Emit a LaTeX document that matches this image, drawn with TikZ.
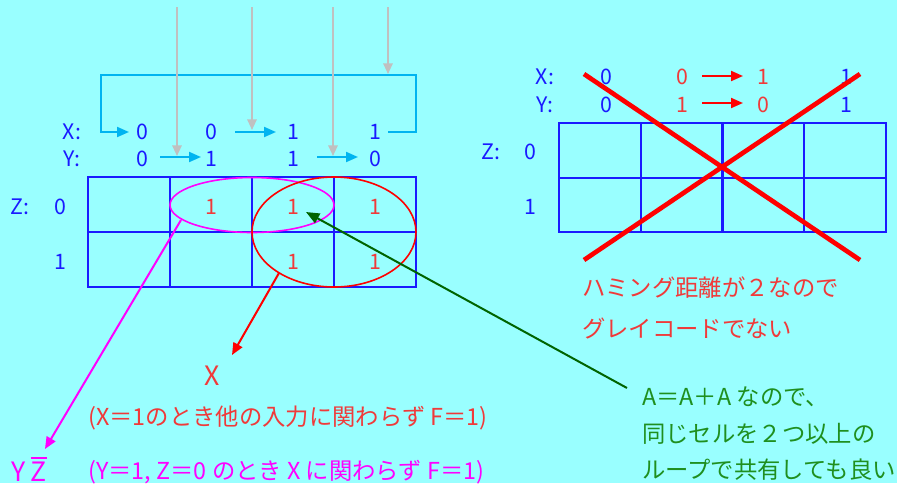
\documentclass[tikz,border=0pt]{standalone}
\usepackage{fontspec}
\setmainfont{Noto Sans CJK JP}
\usetikzlibrary{arrows.meta,calc}
\definecolor{bg}{HTML}{99FFFF}
\definecolor{kblue}{HTML}{1A1AFF}
\definecolor{kcyan}{HTML}{00B4F0}
\definecolor{kgray}{HTML}{C0C0C0}
\definecolor{kred}{HTML}{FF0000}
\definecolor{ktred}{HTML}{F03A3A}
\definecolor{kmag}{HTML}{FF00FF}
\definecolor{kgreen}{HTML}{006400}
\definecolor{ktgreen}{HTML}{1F8F1F}
\tikzset{
  lbl/.style={inner sep=0pt, text=kblue, font=\fontsize{16}{19}\selectfont},
  one/.style={inner sep=0pt, text=ktred, font=\fontsize{16}{19}\selectfont},
  cell/.style={draw=kblue, line width=1.5pt, minimum width=61.5pt, minimum height=41.25pt, inner sep=0pt},
  cellr/.style={draw=kblue, line width=1.5pt, minimum width=61.5pt, minimum height=40.9pt, inner sep=0pt},
  cyanarrow/.style={draw=kcyan, line width=1.5pt, -{Triangle[length=9pt,width=7.5pt]}},
  grayarrow/.style={draw=kgray, line width=1.5pt, -{Triangle[length=8pt,width=7pt]}},
  redarrow/.style={draw=kred, line width=1.5pt, -{Triangle[length=9pt,width=7.5pt]}},
  jtext/.style={inner sep=0pt, anchor=west, font=\fontsize{17.5}{21}\selectfont},
  bigtext/.style={inner sep=0pt, font=\fontsize{20}{24}\selectfont},
}
\begin{document}
\begin{tikzpicture}[x=0.75pt,y=-0.75pt]
\path[use as bounding box, fill=bg] (0,0) rectangle (897,483);

% ---------- left map ----------
\foreach \c/\x in {1/129,2/211,3/293,4/375}{
  \node[cell] (L1\c) at (\x,204.5) {};
  \node[cell] (L2\c) at (\x,259.5) {};
}
\node[lbl] (LX) at (72,132) {X:};
\node[lbl] (LY) at (72,159) {Y:};
\node[lbl] (LZ) at (20,207) {Z:};
\node[lbl] (LZ0) at (60,207) {0};
\node[lbl] (LZ1) at (60,262) {1};
\node[lbl] (X1) at (142,132) {0};
\node[lbl] (X2) at (211,132) {0};
\node[lbl] (X3) at (293,132) {1};
\node[lbl] (X4) at (375,132) {1};
\node[lbl] (Y1) at (142,159) {0};
\node[lbl] (Y2) at (211,159) {1};
\node[lbl] (Y3) at (293,159) {1};
\node[lbl] (Y4) at (375,159) {0};
\node[one] (F12) at (211,207) {1};
\node[one] (F13) at (293,207) {1};
\node[one] (F14) at (375,207) {1};
\node[one] (F23) at (293,262) {1};
\node[one] (F24) at (375,262) {1};

% ellipses
\draw[kmag, line width=1.2pt] (252,205) ellipse [x radius=82, y radius=27.5];
\draw[kred, line width=1.2pt] (334,232) ellipse [x radius=82, y radius=55];

% cyan loop & arrows
\coordinate (lpA) at (388,132);
\coordinate (lpB) at (416,132);
\coordinate (lpC) at (416,75);
\coordinate (lpD) at (101,75);
\coordinate (lpE) at (101,132);
\coordinate (lpF) at (129,132);
\draw[cyanarrow] (lpA) -- (lpB) -- (lpC) -- (lpD) -- (lpE) -- (lpF);
\coordinate (xa1) at (235,132); \coordinate (xa2) at (276,132);
\draw[cyanarrow] (xa1) -- (xa2);
\coordinate (ya1) at (160,157); \coordinate (ya2) at (201,157);
\draw[cyanarrow] (ya1) -- (ya2);
\coordinate (ya3) at (317,157); \coordinate (ya4) at (358,157);
\draw[cyanarrow] (ya3) -- (ya4);

% gray arrows
\foreach \n/\x/\y in {1/177/156,2/252/130,3/333/156,4/388/74}{
  \coordinate (gt\n) at (\x,7);
  \coordinate (gb\n) at (\x,\y);
  \draw[grayarrow] (gt\n) -- (gb\n);
}

% bottom texts
\node[bigtext, text=ktred] (tX) at (212,376) {X};
\node[jtext, text=ktred] (tXd) at (88,418) {(X＝1のとき他の入力に関わらず F＝1)};
\node[bigtext, anchor=base west, text=kmag] (tYZ) at (11,481) {Y\hspace{4pt}\vbox{\hrule height 1.3pt\kern1.8pt\hbox{Z}}};
\node[jtext, text=kmag] (tYZd) at (88,472) {(Y＝1, Z＝0 のとき X に関わらず F＝1)};

\coordinate (ma) at (181,220); \coordinate (mb) at (45,449);
\draw[draw=kmag, line width=1.5pt, -{Triangle[length=9pt,width=7.5pt]}] (ma) -- (mb);
\coordinate (ra) at (279,273); \coordinate (rb) at (232,355);
\draw[redarrow] (ra) -- (rb);

% green
\node[jtext, text=ktgreen] (g1) at (642,397) {A＝A＋A なので、};
\node[jtext, text=ktgreen] (g2) at (642,434) {同じセルを２つ以上の};
\node[jtext, text=ktgreen] (g3) at (642,470) {ループで共有しても良い};
\coordinate (ga) at (627,388); \coordinate (gb) at (306,212);
\draw[draw=kgreen, line width=1.5pt, -{Triangle[length=10pt,width=8pt]}] (ga) -- (gb);

% ---------- right map ----------
\foreach \c/\x in {1/599.5,2/681.5,3/763,4/845}{
  \node[cellr] (R1\c) at (\x,150.5) {};
  \node[cellr] (R2\c) at (\x,205) {};
}
\node[lbl] (RX) at (545,77) {X:};
\node[lbl] (RY) at (545,105) {Y:};
\node[lbl] (RZ) at (491,152) {Z:};
\node[lbl] (RZ0) at (530,152) {0};
\node[lbl] (RZ1) at (530,207) {1};
\node[lbl] (RX1) at (606,77) {0};
\node[one] (RX2) at (682,77) {0};
\node[one] (RX3) at (763,77) {1};
\node[lbl] (RX4) at (846,77) {1};
\node[lbl] (RY1) at (606,105) {0};
\node[one] (RY2) at (682,105) {1};
\node[one] (RY3) at (763,105) {0};
\node[lbl] (RY4) at (846,105) {1};
\coordinate (rxa) at (702,76); \coordinate (rxb) at (743,76);
\draw[redarrow] (rxa) -- (rxb);
\coordinate (rya) at (702,103); \coordinate (ryb) at (743,103);
\draw[redarrow] (rya) -- (ryb);
\coordinate (c1) at (584,74); \coordinate (c2) at (860,260);
\coordinate (c3) at (860,74); \coordinate (c4) at (584,260);
\draw[kred, line width=3.5pt] (c1) -- (c2);
\draw[kred, line width=3.5pt] (c3) -- (c4);
\node[jtext, text=ktred] (h1) at (582,288) {ハミング距離が２なので};
\node[jtext, text=ktred] (h2) at (582,328) {グレイコードでない};
\end{tikzpicture}
\end{document}
